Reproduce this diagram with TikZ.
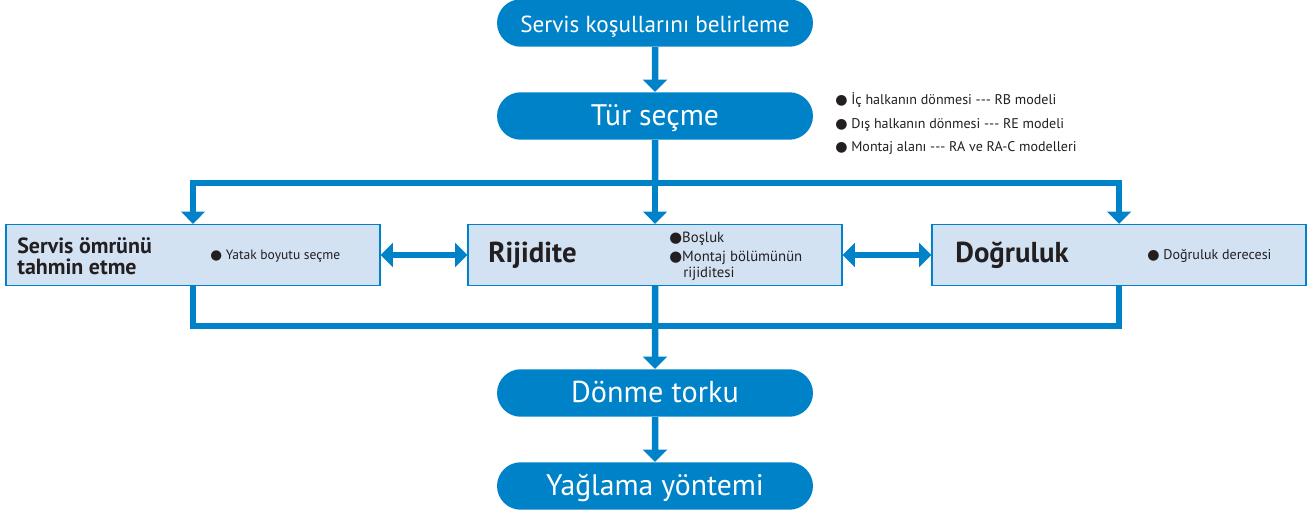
\documentclass[tikz,border=0pt]{standalone}
\usepackage{fontspec}
\setmainfont{PT Sans}
\newfontfamily\dotfont{DejaVu Sans}
\definecolor{FlowBlue}{RGB}{0,130,200}
\definecolor{BoxBlue}{RGB}{211,226,243}
\definecolor{InkGray}{RGB}{35,31,32}
\usetikzlibrary{positioning,shapes,arrows.meta,calc}
\tikzset{>={Triangle[width=13.5pt,length=7pt]}}
\newcommand{\blt}{{\dotfont ●}}

\begin{document}
\begin{tikzpicture}[x=0.02cm,y=-0.02cm,
    pill/.style={rounded rectangle,fill=FlowBlue,text=white,minimum width=6.32cm,minimum height=0.95cm,inner sep=0pt,text height=1.15em,text depth=0.1em},
    topic/.style={rectangle,draw=FlowBlue,line width=0.8pt,fill=BoxBlue,minimum width=7.48cm,minimum height=1.22cm},
    flow/.style={FlowBlue,line width=3.7pt},
    note/.style={text=InkGray,inner sep=0pt,font=\fontsize{8}{9}\selectfont},
    head/.style={text=InkGray,inner sep=0pt,font=\fontsize{16.4}{16}\bfseries\selectfont}]
        \useasboundingbox (0,0) rectangle (1308,513);
        % main column
        \node[pill,font=\fontsize{13.2}{14}\selectfont] at (655,23) (serv) {Servis koşullarını belirleme};
        \node[pill,font=\fontsize{16.9}{17}\selectfont] at (655,116) (tur) {Tür seçme};
        \node[pill,font=\fontsize{17.2}{17}\selectfont] at (655,393) (donme) {Dönme torku};
        \node[pill,font=\fontsize{16.9}{17}\selectfont] at (655,486) (yag) {Yağlama yöntemi};
        % type notes
        \node[note,anchor=west] at (835,100) (turA) {\blt\ İç halkanın dönmesi -{}-{}- RB modeli};
        \node[note,anchor=west] at (835,125) (turB) {\blt\ Dış halkanın dönmesi -{}-{}- RE modeli};
        \node[note,anchor=west] at (835,148) (turC) {\blt\ Montaj alanı -{}-{}- RA ve RA-C modelleri};
        % three checks
        \node[topic] at (193,255) (omur) {};
        \node[topic] at (655,255) (rij) {};
        \node[topic] at (1119,255) (dogru) {};
        \node[head,anchor=west,align=left,font=\fontsize{12.5}{12}\bfseries\selectfont] at (17,256) (omurT) {Servis ömrünü\\tahmin etme};
        \node[note,anchor=west,font=\fontsize{7.7}{9}\selectfont] at (210,256) (omurN) {\blt\ Yatak boyutu seçme};
        \node[head,anchor=base west] at (488,262) (rijT) {Rijidite};
        \node[note,anchor=base west,font=\fontsize{8.4}{9}\selectfont] at (669,243) (rijA) {\blt Boşluk};
        \node[note,anchor=base west,font=\fontsize{8.4}{9}\selectfont] at (669,261) (rijB) {\blt Montaj bölümünün};
        \node[note,anchor=base west,font=\fontsize{8.4}{9}\selectfont] at (683,277) (rijC) {rijiditesi};
        \node[head,anchor=base west] at (955,262) (dogruT) {Doğruluk};
        \node[note,anchor=west] at (1147,256) (dogruN) {\blt\ Doğruluk derecesi};
        % connectors
        \coordinate (busT) at (655,183);
        \coordinate (busB) at (655,326);
        \draw[flow,->] (serv) -- (tur);
        \draw[flow] (tur) -- (busT);
        \draw[flow,->] (busT) -| (omur);
        \draw[flow,->] (busT) -| (dogru);
        \draw[flow,->] (busT) -- (rij);
        \draw[flow] (omur) |- (busB);
        \draw[flow] (dogru) |- (busB);
        \draw[flow,->] (rij) -- (busB) -- (donme);
        \draw[flow,->] (donme) -- (yag);
        \draw[flow,<->] (omur) -- (rij);
        \draw[flow,<->] (rij) -- (dogru);
\end{tikzpicture}
\end{document}
